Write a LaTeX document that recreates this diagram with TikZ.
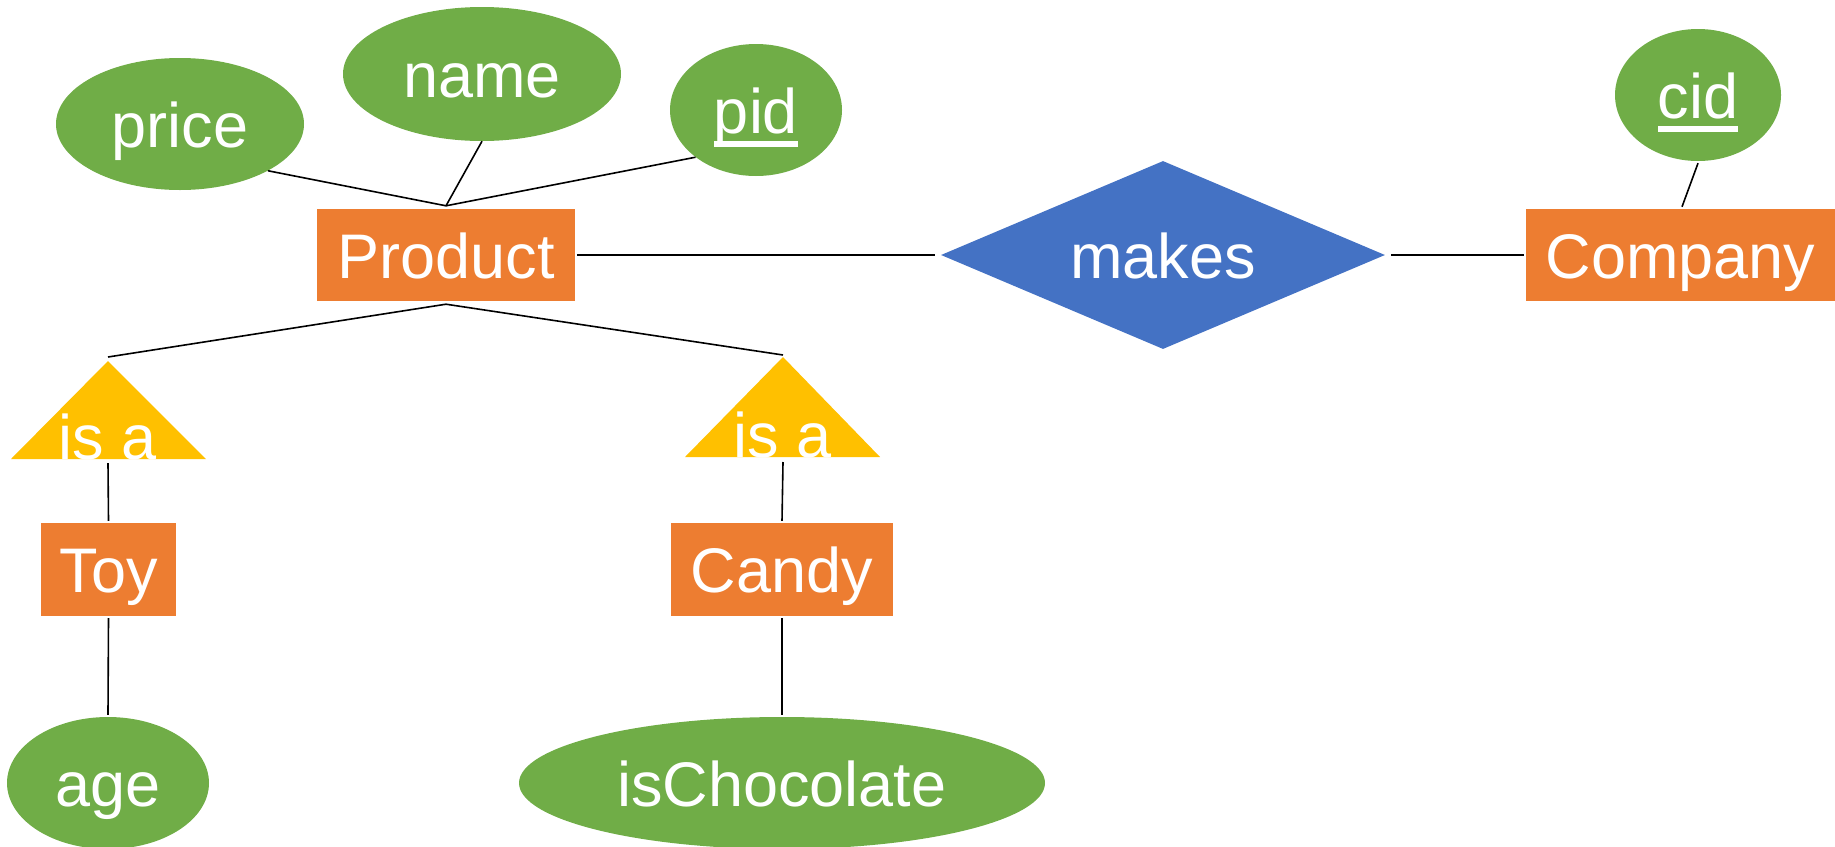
\documentclass[tikz,border=0pt]{standalone}
\usepackage{fontspec}
\setmainfont{Liberation Sans}
\usetikzlibrary{shapes.geometric}

\definecolor{attrgreen}{HTML}{70AD47}
\definecolor{entorange}{HTML}{ED7D31}
\definecolor{relblue}{HTML}{4472C4}
\definecolor{isagold}{HTML}{FFC000}

% key attribute: text with a bar below it
\newcommand\keyattr[1]{\setbox0=\hbox{#1}\rlap{\rule[-14pt]{\wd0}{6pt}}\box0}

\begin{document}
\begin{tikzpicture}[x=1pt, y=-1pt,
  every node/.style={font=\fontsize{63}{75}\selectfont, text=white,
    inner sep=0pt, text height=46pt, text depth=0pt},
  attr/.style={ellipse, fill=attrgreen},
  entity/.style={rectangle, fill=entorange},
  rel/.style={diamond, fill=relblue, aspect=2.36},
  link/.style={draw=black, line width=1.6pt}]

\useasboundingbox (0,0) rectangle (1835,846);

% entities
\node[entity, minimum width=258pt, minimum height=92pt] (product) at (446,255) {Product};
\node[entity, minimum width=309pt, minimum height=92pt] (company) at (1680.5,255) {Company};
\node[entity, minimum width=135pt, minimum height=93pt] (toy) at (108.5,569.5) {Toy};
\node[entity, minimum width=222pt, minimum height=93pt] (candy) at (782,569.5) {Candy};

% attributes
\node[attr, minimum width=248pt, minimum height=132pt] (price) at (180,124) {price};
\node[attr, minimum width=278pt, minimum height=134pt] (name) at (482,74) {name};
\node[attr, minimum width=172pt, minimum height=132pt] (pid) at (756,110) {\keyattr{pid}};
\node[attr, minimum width=166pt, minimum height=132pt] (cid) at (1698,95) {\keyattr{cid}};
\node[attr, minimum width=202pt, minimum height=132pt] (age) at (108,783) {age};
\node[attr, minimum width=526pt, minimum height=132pt] (choc) at (782,783) {isChocolate};

% relationship
\node[rel, minimum width=444pt, minimum height=188pt] (makes) at (1163,255) {makes};

% is-a triangles
\coordinate (isaLtop) at (108,361);
\coordinate (isaLbot) at (108,459);
\fill[isagold] (isaLtop) -- (11,459) -- (206,459) -- cycle;
\node[anchor=base] (isaL) at (isaLbot) {is a};

\coordinate (isaRtop) at (783,357);
\coordinate (isaRbot) at (783,457);
\fill[isagold] (isaRtop) -- (685,457) -- (880,457) -- cycle;
\node[anchor=base] (isaR) at (isaRbot) {is a};

% connectors
\coordinate (prodTop) at ([yshift=3pt]product.north);
\coordinate (prodBot) at ([yshift=-3pt]product.south);

\draw[link] (price.-28) -- (prodTop);
\draw[link] (name.south) -- (prodTop);
\draw[link] (pid.218) -- (prodTop);

\draw[link] ([xshift=2pt]product.east) -- ([xshift=-6pt]makes.west);
\draw[link] ([xshift=6pt]makes.east) -- ([xshift=-2pt]company.west);
\draw[link] ([yshift=-2pt]cid.south) -- ([xshift=1.5pt,yshift=2pt]company.north);

\draw[link] (prodBot) -- ([yshift=4pt]isaLtop);
\draw[link] (prodBot) -- ([yshift=2pt]isaRtop);

\draw[link] ([yshift=-4pt]isaLbot) -- ([yshift=2pt]toy.north);
\draw[link] ([yshift=-2pt]toy.south) -- ([yshift=2pt]age.north);
\draw[link] ([yshift=-5pt]isaRbot) -- ([yshift=2pt]candy.north);
\draw[link] ([yshift=-2pt]candy.south) -- ([yshift=2pt]choc.north);
\end{tikzpicture}
\end{document}
